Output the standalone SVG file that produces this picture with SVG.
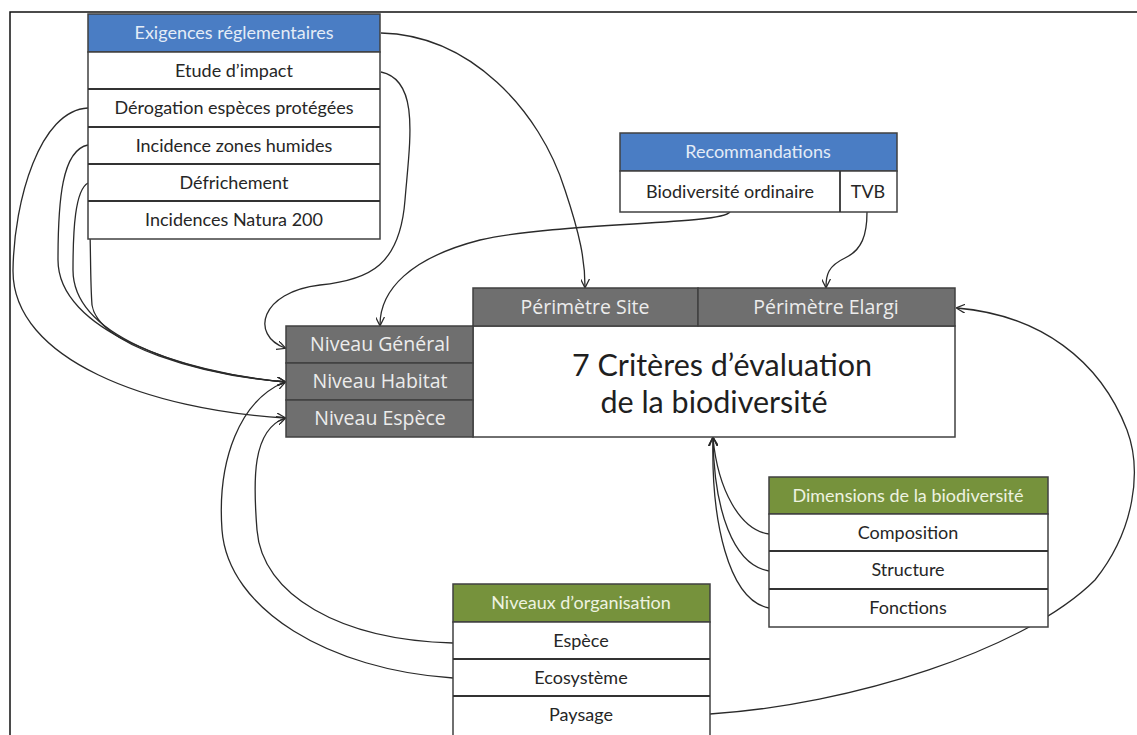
<svg xmlns="http://www.w3.org/2000/svg" width="1137" height="735" viewBox="0 0 1137 735">
<style>
.box{fill:#fff;stroke:#404040;stroke-width:1.5}
.blue{fill:#4a7dc4;stroke:#404040;stroke-width:1.5}
.green{fill:#76923c;stroke:#404040;stroke-width:1.5}
.gray{fill:#6f6f6f;stroke:#404040;stroke-width:1.5}
.sep{stroke:#333;stroke-width:1.8}
.t{font-family:Lato,"Liberation Sans",sans-serif;font-size:18px;fill:#262626;text-anchor:middle}
.h{font-family:Lato,"Liberation Sans",sans-serif;font-size:18px;fill:#e4ecf7;text-anchor:middle}
.hg{font-family:Lato,"Liberation Sans",sans-serif;font-size:18px;fill:#eef3e0;text-anchor:middle}
.g{font-family:"Open Sans","Liberation Sans",sans-serif;font-size:19.5px;fill:#ececec;text-anchor:middle}
.big{font-family:Lato,"Liberation Sans",sans-serif;font-size:30.5px;fill:#1f1f1f;text-anchor:middle}
.c{fill:none;stroke:#2a2a2a;stroke-width:1.3}
</style>
<defs>
<marker id="arr" viewBox="0 0 10 10" refX="9" refY="5" markerWidth="9" markerHeight="9" markerUnits="userSpaceOnUse" orient="auto">
<path d="M0,0 L10,5 L0,10" fill="none" stroke="#2a2a2a" stroke-width="1.4"/>
</marker>
</defs>
<rect width="1137" height="735" fill="#fff"/>
<rect x="10" y="12" width="1140" height="740" fill="none" stroke="#111" stroke-width="1.5"/>

<g id="connectors">
<path class="c" marker-end="url(#arr)" d="M381,33 C470,35 540,110 565,190 C580,235 585,260 585,287"/>
<path class="c" marker-end="url(#arr)" d="M381,72 C420,80 410,140 405,200 C400,265 370,280 320,285 C260,292 250,335 285,348"/>
<path class="c" marker-end="url(#arr)" d="M88,108 C40,110 14,200 13,270 C12,360 150,410 285,418"/>
<path class="c" marker-end="url(#arr)" d="M88,145 C62,150 58,200 58,260 C58,330 180,372 285,382"/>
<path class="c" marker-end="url(#arr)" d="M88,183 C75,190 73,230 73,270 C73,335 180,372 285,382"/>
<path class="c" marker-end="url(#arr)" d="M89,205 C91,240 90,280 92,305 C98,345 200,375 285,382"/>
<path class="c" marker-end="url(#arr)" d="M730,212 C720,225 560,222 480,240 C410,258 380,290 380,325"/>
<path class="c" marker-end="url(#arr)" d="M867,212 C867,235 862,250 845,258 C828,266 826,275 826,287"/>
<path class="c" marker-end="url(#arr)" d="M710,714 C850,705 1025,650 1095,580 C1135,530 1142,470 1127,430 C1100,360 1040,315 957,308"/>
<path class="c" marker-end="url(#arr)" d="M453,678 C330,670 228,610 222,530 C217,460 240,400 285,382"/>
<path class="c" marker-end="url(#arr)" d="M453,643 C340,640 262,595 257,530 C253,480 252,430 285,418"/>
<path class="c" marker-end="url(#arr)" d="M769,534 C740,530 718,490 713,438"/>
<path class="c" marker-end="url(#arr)" d="M769,571 C733,565 714,510 713,438"/>
<path class="c" marker-end="url(#arr)" d="M769,608 C728,600 711,520 713,438"/>
</g>

<g id="exigences">
<rect class="blue" x="88" y="14" width="292" height="38"/>
<rect class="box" x="88" y="52" width="292" height="187"/>
<line class="sep" x1="88" y1="89" x2="380" y2="89"/>
<line class="sep" x1="88" y1="127" x2="380" y2="127"/>
<line class="sep" x1="88" y1="164" x2="380" y2="164"/>
<line class="sep" x1="88" y1="201" x2="380" y2="201"/>
<text class="h" x="234" y="39">Exigences réglementaires</text>
<text class="t" x="234" y="77">Etude d’impact</text>
<text class="t" x="234" y="114">Dérogation espèces protégées</text>
<text class="t" x="234" y="152">Incidence zones humides</text>
<text class="t" x="234" y="189">Défrichement</text>
<text class="t" x="234" y="226">Incidences Natura 200</text>
</g>

<g id="recommandations">
<rect class="blue" x="620" y="133" width="277" height="38"/>
<rect class="box" x="620" y="171" width="277" height="41"/>
<line class="sep" x1="840" y1="171" x2="840" y2="212"/>
<text class="h" x="758" y="158">Recommandations</text>
<text class="t" x="730" y="198">Biodiversité ordinaire</text>
<text class="t" x="868" y="198">TVB</text>
</g>

<g id="criteres">
<rect class="box" x="473" y="326" width="482" height="111"/>
<rect class="gray" x="473" y="288" width="225" height="38"/>
<rect class="gray" x="698" y="288" width="257" height="38"/>
<text class="g" x="585" y="314">Périmètre Site</text>
<text class="g" x="826" y="314">Périmètre Elargi</text>
<rect class="gray" x="286" y="326" width="187" height="37"/>
<rect class="gray" x="286" y="363" width="187" height="37"/>
<rect class="gray" x="286" y="400" width="187" height="37"/>
<text class="g" x="380" y="351">Niveau Général</text>
<text class="g" x="380" y="388">Niveau Habitat</text>
<text class="g" x="380" y="425">Niveau Espèce</text>
<text class="big" x="722" y="376">7 Critères d’évaluation</text>
<text class="big" x="714" y="413">de la biodiversité</text>
</g>

<g id="dimensions">
<rect class="green" x="769" y="477" width="279" height="37"/>
<rect class="box" x="769" y="514" width="279" height="113"/>
<line class="sep" x1="769" y1="551" x2="1048" y2="551"/>
<line class="sep" x1="769" y1="589" x2="1048" y2="589"/>
<text class="hg" x="908" y="502">Dimensions de la biodiversité</text>
<text class="t" x="908" y="539">Composition</text>
<text class="t" x="908" y="576">Structure</text>
<text class="t" x="908" y="614">Fonctions</text>
</g>

<g id="organisation">
<rect class="green" x="453" y="584" width="257" height="38"/>
<rect class="box" x="453" y="622" width="257" height="114"/>
<line class="sep" x1="453" y1="659" x2="710" y2="659"/>
<line class="sep" x1="453" y1="696" x2="710" y2="696"/>
<text class="hg" x="581" y="609">Niveaux d’organisation</text>
<text class="t" x="581" y="647">Espèce</text>
<text class="t" x="581" y="684">Ecosystème</text>
<text class="t" x="581" y="721">Paysage</text>
</g>
</svg>
